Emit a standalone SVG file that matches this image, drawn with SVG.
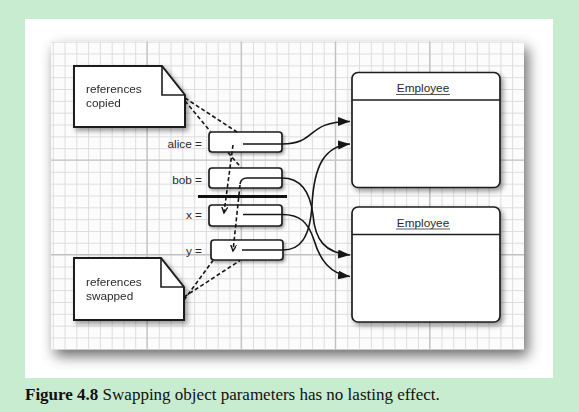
<svg xmlns="http://www.w3.org/2000/svg" width="579" height="412" viewBox="0 0 579 412">
<style>
.lbl{font-family:"Liberation Sans",Arial,sans-serif;font-size:11.8px;fill:#2a2a2a}
.box{fill:#fff;stroke:#1e1e1e;stroke-width:1.7}
.note{fill:#fff;stroke:#1e1e1e;stroke-width:2;stroke-linejoin:miter}
.fold{fill:none;stroke:#1e1e1e;stroke-width:1.6}
.ref{fill:none;stroke:#151515;stroke-width:1.6}
.dash{fill:none;stroke:#151515;stroke-width:1.6;stroke-dasharray:4,2.5}
</style>
<defs>
<pattern id="grid" patternUnits="userSpaceOnUse" x="147" y="160" width="11.78" height="11.83">
<rect width="1" height="11.83" fill="#dddddd"/>
<rect width="11.78" height="1" fill="#dddddd"/>
</pattern>
<filter id="gshadow" x="-10%" y="-10%" width="125%" height="130%">
<feGaussianBlur stdDeviation="7"/>
</filter>
<filter id="sh" x="-20%" y="-20%" width="150%" height="150%">
<feDropShadow dx="2.5" dy="3" stdDeviation="2.5" flood-color="#000" flood-opacity="0.4"/>
</filter>
<filter id="shs" x="-20%" y="-30%" width="150%" height="170%">
<feDropShadow dx="1.5" dy="2" stdDeviation="1.5" flood-color="#000" flood-opacity="0.35"/>
</filter>
<marker id="arr" markerUnits="userSpaceOnUse" markerWidth="14" markerHeight="10" refX="12" refY="4.5" orient="auto">
<path d="M0,0 L12,4.5 L0,9 z" fill="#151515"/>
</marker>
<marker id="varr" markerUnits="userSpaceOnUse" markerWidth="8" markerHeight="8" refX="6" refY="3" orient="auto">
<path d="M0,0 L6,3 L0,6" fill="none" stroke="#151515" stroke-width="1.4"/>
</marker>
</defs>
<rect width="579" height="412" fill="#c8ecd0"/>
<rect x="25" y="19" width="528" height="359" fill="#fff"/>
<g id="grid-bg">
<rect x="55" y="48" width="473" height="308" fill="#444" opacity="0.8" filter="url(#gshadow)"/>
<rect x="51" y="41.5" width="473" height="308" fill="#fcfcfc"/>
<rect x="51" y="41.5" width="473" height="308" fill="url(#grid)"/>
<path d="M147,41.5V349.5M241.2,41.5V349.5M335.4,41.5V349.5M429.7,41.5V349.5M51,160H524M51,254.6H524" stroke="#c0c0c0" stroke-width="1.2" fill="none"/>
</g>
<g id="note-copied" filter="url(#sh)">
<path class="note" d="M74,66H162L185,95V127H74Z"/>
<path class="fold" d="M162,66V95H185"/>
<text class="lbl" x="86" y="93">references</text>
<text class="lbl" x="86" y="106.5">copied</text>
</g>
<g id="note-swapped" filter="url(#sh)">
<path class="note" d="M74,258H161L184,287V320H74Z"/>
<path class="fold" d="M161,258V287H184"/>
<text class="lbl" x="86" y="286">references</text>
<text class="lbl" x="86" y="299.5">swapped</text>
</g>
<g id="var-alice">
<text class="lbl" x="202" y="147.5" text-anchor="end">alice =</text>
<rect class="box" x="209" y="132" width="73" height="20" rx="3" filter="url(#shs)"/>
</g>
<g id="var-bob">
<text class="lbl" x="202" y="184" text-anchor="end">bob =</text>
<rect class="box" x="209" y="168" width="73" height="20" rx="3" filter="url(#shs)"/>
</g>
<g id="separator">
<path d="M198,196.5H287" stroke="#111" stroke-width="3"/>
</g>
<g id="var-x">
<text class="lbl" x="202" y="219" text-anchor="end">x =</text>
<rect class="box" x="209" y="205" width="73" height="21" rx="3" filter="url(#shs)"/>
</g>
<g id="var-y">
<text class="lbl" x="202" y="254.5" text-anchor="end">y =</text>
<rect class="box" x="211" y="240" width="72" height="20" rx="3" filter="url(#shs)"/>
</g>
<g id="employee-1">
<rect class="box" x="352" y="72.5" width="148" height="115" rx="6" filter="url(#sh)"/>
<path d="M352,100H500" stroke="#1e1e1e" stroke-width="1.5"/>
<text class="lbl" x="423" y="92" text-anchor="middle">Employee</text>
<path d="M396,94.5H450" stroke="#444" stroke-width="0.9"/>
</g>
<g id="employee-2">
<rect class="box" x="352" y="207" width="148" height="115" rx="6" filter="url(#sh)"/>
<path d="M352,234.5H500" stroke="#1e1e1e" stroke-width="1.5"/>
<text class="lbl" x="423" y="226.5" text-anchor="middle">Employee</text>
<path d="M396,229H450" stroke="#444" stroke-width="0.9"/>
</g>
<g id="connectors">
<path class="dash" d="M185,98L237,132"/>
<path class="dash" d="M185,101L210.5,131.5M228,152.5L241,167.5"/>
<path class="dash" d="M184,300L213,260.5"/>
<path class="dash" d="M184,297L240,260.5"/>
<path class="dash" d="M233,145L224,213" marker-end="url(#varr)"/>
<path class="dash" d="M240,185L233,251" marker-end="url(#varr)"/>
<path class="ref" d="M243,144H282C318,144 305,121.5 350,121.5" marker-end="url(#arr)"/>
<path class="ref" d="M242,250H283C300,250 310,238 312,205C314,165 325,146 350,144" marker-end="url(#arr)"/>
<path class="ref" d="M240,184Q241,178 247,178H282C300,178 310,190 313,215C315,240 325,253 350,255" marker-end="url(#arr)"/>
<path class="ref" d="M243,214.5H282C300,214.5 308,222 314,240C320,260 330,274 350,276.5" marker-end="url(#arr)"/>
</g>
<text x="25" y="399.5" font-family="'Liberation Serif','Times New Roman',serif" font-size="17" fill="#111"><tspan font-weight="bold">Figure 4.8</tspan> Swapping object parameters has no lasting effect.</text>
</svg>
